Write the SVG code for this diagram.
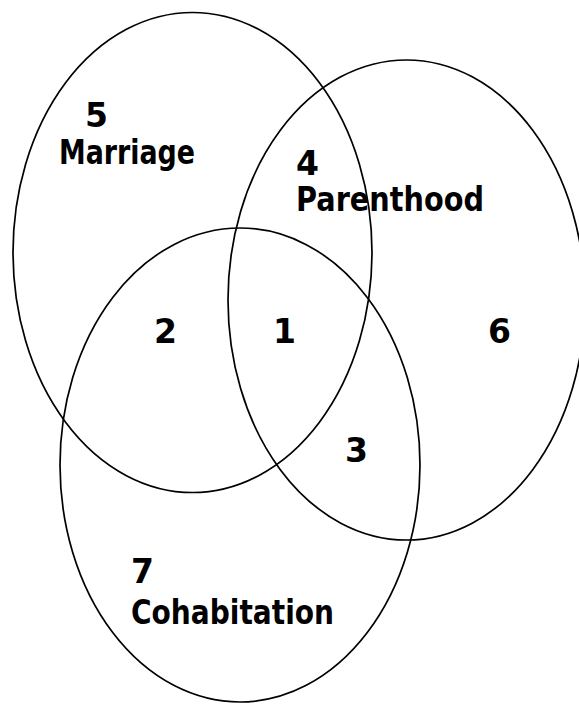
<svg xmlns="http://www.w3.org/2000/svg" width="579" height="704" viewBox="0 0 579 704">
<style>
.set{fill:none;stroke:#000;stroke-width:1.7}
.t{font-family:"DejaVu Sans","Liberation Sans",sans-serif;font-weight:bold;font-size:33px;fill:#000}
</style>
<rect width="579" height="704" fill="#fff"/>
<g id="marriage">
<ellipse class="set" cx="192.5" cy="252.5" rx="179.5" ry="240"/>
<text class="t" x="85" y="127">5</text>
<text class="t" x="59" y="164" textLength="136" lengthAdjust="spacingAndGlyphs">Marriage</text>
</g>
<g id="parenthood">
<ellipse class="set" cx="406.5" cy="300" rx="178.5" ry="240"/>
<text class="t" x="296" y="175">4</text>
<text class="t" x="296" y="211" textLength="188" lengthAdjust="spacingAndGlyphs">Parenthood</text>
</g>
<g id="cohabitation">
<ellipse class="set" cx="240" cy="465" rx="180" ry="237"/>
<text class="t" x="131" y="583">7</text>
<text class="t" x="131" y="624" textLength="203" lengthAdjust="spacingAndGlyphs">Cohabitation</text>
</g>
<g id="regions">
<text class="t" x="154" y="343">2</text>
<text class="t" x="273" y="343">1</text>
<text class="t" x="488" y="343">6</text>
<text class="t" x="345" y="462">3</text>
</g>
</svg>
